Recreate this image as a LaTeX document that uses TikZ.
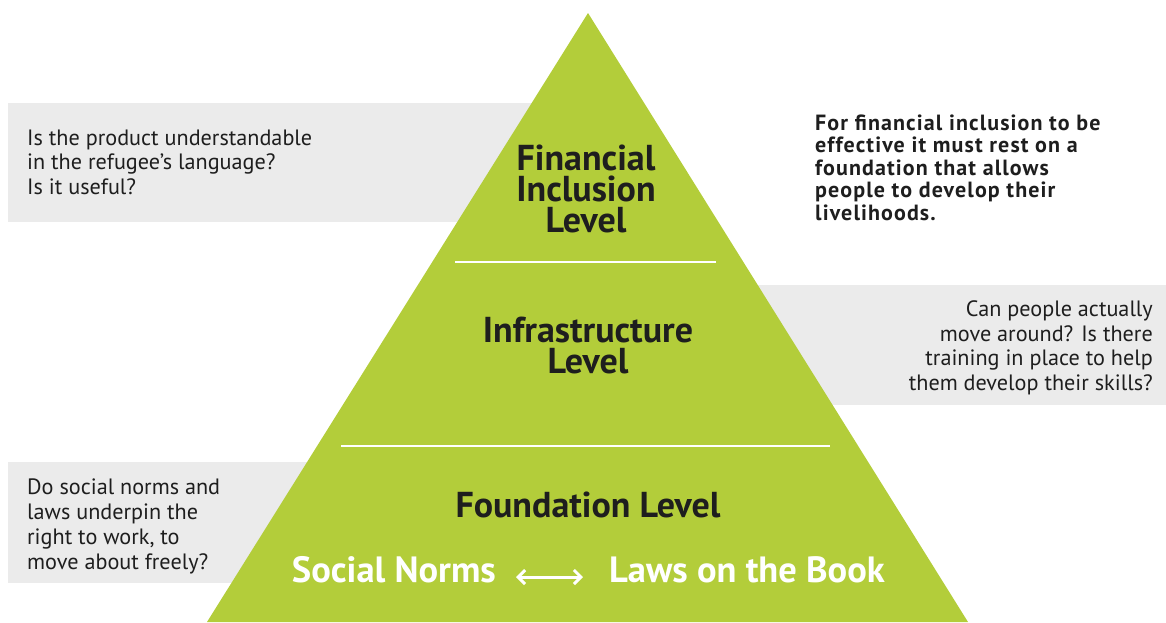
\documentclass[tikz,border=0pt]{standalone}
\usepackage{fontspec}
\setmainfont{PT Sans}
\usetikzlibrary{arrows.meta}

\definecolor{pyramidgreen}{HTML}{B3CD3A}
\definecolor{boxgray}{HTML}{EBEBEB}
\definecolor{inktext}{HTML}{1E1E1E}

\tikzset{
    levellabel/.style={inner sep=0, align=center, text=inktext, font=\bfseries\fontsize{36}{31}\selectfont},
    sidenote/.style={inner sep=0, text=inktext, font=\fontsize{22.2}{24.5}\selectfont},
    basetext/.style={inner sep=0, text=white, font=\bfseries\fontsize{36.5}{40}\selectfont},
    twoway/.style={white, line width=3pt, {Straight Barb[length=7pt,width=14pt]}-{Straight Barb[length=7pt,width=14pt]}}
}

\begin{document}
\begin{tikzpicture}[x=1pt, y=-1pt]
    \useasboundingbox (0,0) rectangle (1166,622);
    \def\apexX{588} % x of the top of the pyramid
    \def\apexY{13} % y of the top of the pyramid
    \def\baseL{207} % left corner of the base
    \def\baseR{968} % right corner of the base

    % gray question boxes, behind the pyramid
    \fill[boxgray] (8,103) rectangle (\apexX,222);
    \fill[boxgray] (\apexX,285) rectangle (1166,405);
    \fill[boxgray] (8,462) rectangle (\apexX,583);

    % the pyramid
    \fill[pyramidgreen] (\apexX,\apexY) -- (\baseR,622) -- (\baseL,622) -- cycle;

    % white lines between the levels
    \foreach \y/\xl/\xr in {262/455/716, 446/341/830} {
        \draw[white, line width=1.5pt] (\xl,\y) -- (\xr,\y);
    }

    % base anchors sit on the last line of each block
    \node[levellabel, anchor=base] (financial) at (586,232) {Financial\\Inclusion\\Level};
    \node[levellabel, anchor=base] (infra) at (588,373) {Infrastructure\\Level};
    \node[levellabel, anchor=base] (foundation) at (588,517) {Foundation Level};

    \node[basetext, anchor=base east] (norms) at (496,582) {Social Norms};
    \node[basetext, anchor=base west] (laws) at (609,582) {Laws on the Book};
    \draw[twoway, shorten <=20pt, shorten >=26pt] ([yshift=5pt]norms.base east) -- ([yshift=5pt]laws.base west);

    \node[sidenote, anchor=base west, align=left] (qproduct) at (27,194)
        {Is the product understandable\\in the refugee’s language?\\Is it useful?};
    \node[sidenote, anchor=base east, align=right] (qmove) at (1153,390)
        {Can people actually\\move around? Is there\\training in place to help\\them develop their skills?};
    \node[sidenote, anchor=base west, align=left, font=\fontsize{22.2}{25}\selectfont] (qnorms) at (27,569)
        {Do social norms and\\laws underpin the\\right to work, to\\move about freely?};

    \node[sidenote, anchor=base west, align=left, font=\bfseries\addfontfeatures{LetterSpace=5}\fontsize{22}{22.5}\selectfont] (claim) at (815,220)
        {For financial inclusion to be\\effective it must rest on a\\foundation that allows\\people to develop their\\livelihoods.};
\end{tikzpicture}
\end{document}
